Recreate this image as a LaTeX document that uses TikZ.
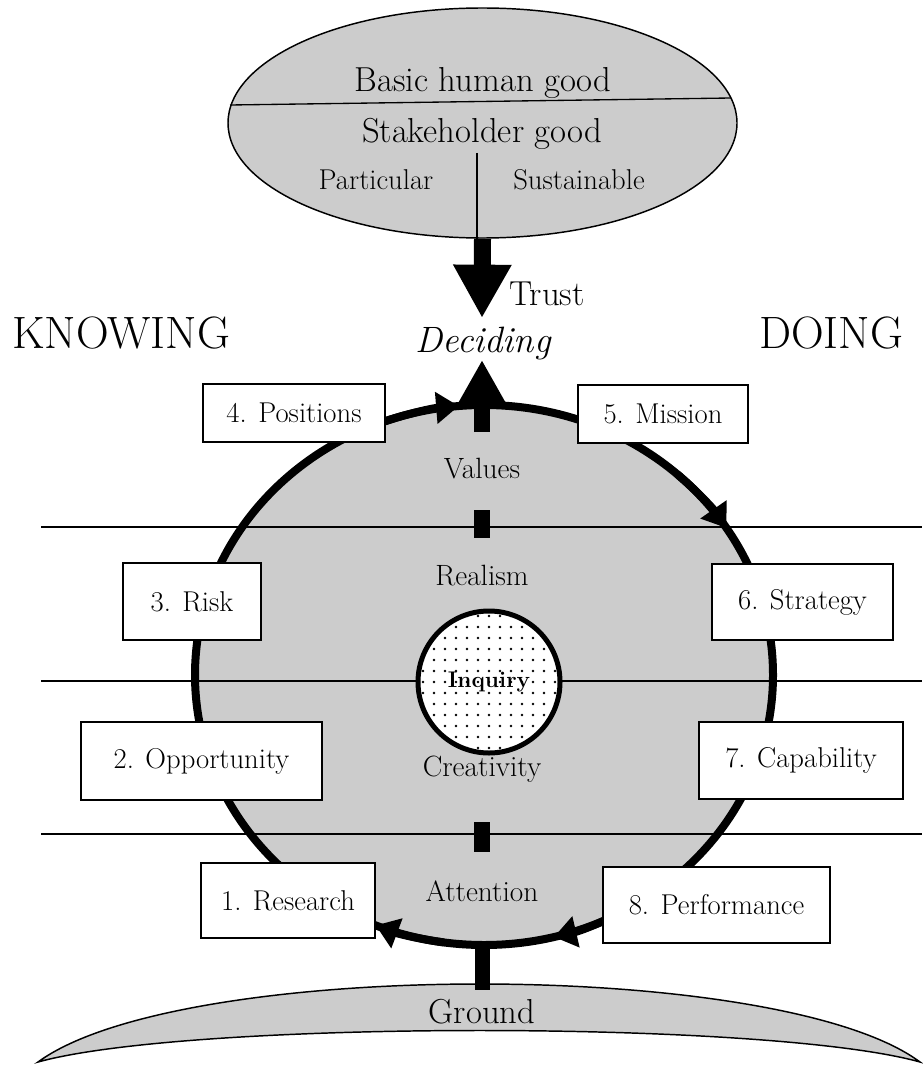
\documentclass[tikz,border=0pt]{standalone}
\usetikzlibrary{shapes.geometric,arrows.meta}
\definecolor{fillgray}{HTML}{CCCCCC}
\begin{document}
\begin{tikzpicture}[x=0.75pt,y=-0.75pt,
  box/.style={draw, fill=white, line width=1.1pt, inner sep=0pt, font=\fontsize{21.5}{25}\selectfont},
  zone/.style={font=\fontsize{22}{26}\selectfont, anchor=base, inner sep=0pt},
  big/.style={font=\fontsize{26}{30}\selectfont, anchor=base, inner sep=0pt},
  side/.style={font=\fontsize{21.5}{25}\selectfont, anchor=base, inner sep=0pt},
  head/.style={font=\fontsize{34}{40}\selectfont, anchor=base, inner sep=0pt},
  sep/.style={line width=1pt},
  bar/.style={line width=12pt},
  cyc/.style={line width=6pt, -{Triangle[length=17pt,width=23pt]}},
]
\useasboundingbox (0,0) rectangle (922,1066);

% top ellipse
\node[ellipse, draw, fill=fillgray, line width=1.1pt, minimum width=381.75pt, minimum height=172.5pt, inner sep=0pt] (good) at (482.5,123) {};
\draw[sep] (230,105) -- (731,98);
\node[big] (basic) at (483,92) {Basic human good};
\node[big] (stake) at (482,143) {Stakeholder good};
\node[side] (part) at (376,190) {Particular};
\node[side] (sust) at (579,190) {Sustainable};
\coordinate (split) at (477,153);
\draw[line width=1.1pt] (split) -- (split |- good.south);

% trust arrow
\coordinate (decide) at (482,318);
\draw[line width=12.75pt, -{Triangle[length=40pt,width=41pt]}] (good.south) -- (decide);
\node[big] (trust) at (547,305) {Trust};
\node[font=\itshape\fontsize{27.5}{32}\selectfont, anchor=base, inner sep=0pt] (deciding) at (483,352) {Deciding};
\node[head] (knowing) at (121,348) {KNOWING};
\node[head] (doing) at (831,348) {DOING};

% big circle
\coordinate (c) at (484,675);
\draw[fill=fillgray, line width=6pt] (c) ellipse [x radius=289, y radius=270];
\foreach \y in {527,681,834} \draw[sep] (41,\y) -- (922,\y);

% bars
\draw[bar] (482,510) -- (482,538);
\draw[bar] (482,822) -- (482,852);
\coordinate (ctop) at (482,432);
\coordinate (uptip) at (482,360);
\draw[line width=12pt, -{Triangle[length=33pt,width=34pt]}] (ctop) -- (uptip);

% inquiry
\begin{scope}
\clip (489,682) circle (71);
\fill[white] (489,682) circle (71);
\foreach \i in {-7,...,7}{\foreach \j in {-7,...,7}{\fill (489+\i*11,682+\j*11) circle (1.4);}}
\end{scope}
\node[circle, draw, line width=3.75pt, minimum size=106.5pt, inner sep=0pt] (inq) at (489,682) {};
\node[font=\bfseries\fontsize{17}{20}\selectfont] at (inq) {Inquiry};

% zone labels
\node[zone] (values) at (482,478) {Values};
\node[zone] (realism) at (482,585) {Realism};
\node[zone] (creat) at (482,776) {Creativity};
\node[zone] (attn) at (482,901) {Attention};

% cycle arrows
\draw[cyc] ([shift={(250:289 and 270)}]c) arc[start angle=250, end angle=265, x radius=289, y radius=270];
\draw[cyc] ([shift={(312:289 and 270)}]c) arc[start angle=312, end angle=327, x radius=289, y radius=270];
\draw[cyc] ([shift={(60:289 and 270)}]c) arc[start angle=60, end angle=76, x radius=289, y radius=270];
\draw[cyc] ([shift={(98:289 and 270)}]c) arc[start angle=98, end angle=112, x radius=289, y radius=270];

% boxes
\node[box, minimum width=136.5pt, minimum height=43.5pt] (b4) at (294,413) {4. Positions};
\node[box, minimum width=127.5pt, minimum height=43.5pt] (b5) at (663,414) {5. Mission};
\node[box, minimum width=103.5pt, minimum height=57.75pt] (b3) at (192,601.5) {3. Risk};
\node[box, minimum width=135.75pt, minimum height=57pt] (b6) at (802.5,602) {6. Strategy};
\node[box, minimum width=180.75pt, minimum height=58.5pt] (b2) at (201.5,761) {2. Opportunity};
\node[box, minimum width=153pt, minimum height=57.75pt] (b7) at (801,760.5) {7. Capability};
\node[box, minimum width=130.5pt, minimum height=56.25pt] (b1) at (288,900.5) {1. Research};
\node[box, minimum width=170.25pt, minimum height=57pt] (b8) at (716.5,905) {8. Performance};

% ground
\draw[fill=fillgray, line width=1.1pt] (38,1062) .. controls (180,958) and (780,958) .. (920,1062) .. controls (770,1020) and (190,1020) .. (38,1062) -- cycle;
\coordinate (groundtop) at (482.5,990);
\coordinate (cbot) at (482.5,942);
\draw[line width=11pt] (cbot) -- (groundtop);
\node[big, font=\fontsize{26}{30}\selectfont] (ground) at (482,1023) {Ground};
\end{tikzpicture}
\end{document}
